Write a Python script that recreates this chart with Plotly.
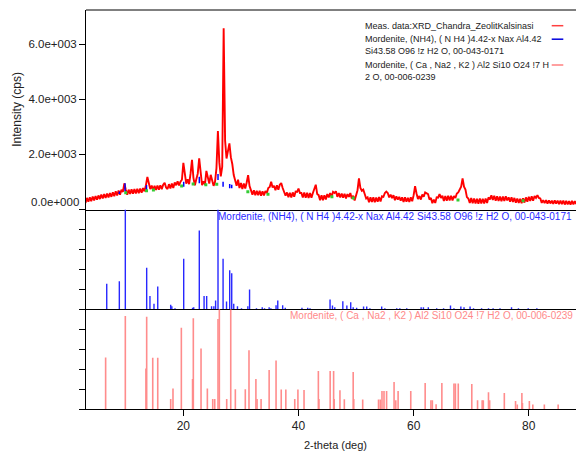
import plotly.graph_objects as go
from plotly.subplots import make_subplots

# ---------------- data ----------------
scan_start = 3.0
scan_step = 0.25
meas_counts = [
    240, 420, 280, 440, 300, 470, 330, 490, 360, 510, 380, 540, 400, 560, 420, 580, 440, 600, 460, 620,
    480, 660, 510, 690, 540, 720, 640, 950, 720, 540, 720, 560, 730, 570, 740, 580, 750, 590, 760, 610,
    780, 660, 880, 1180, 960, 740, 870, 700, 860, 710, 870, 720, 880, 740, 900, 970, 800, 740, 920, 760,
    940, 780, 980, 880, 1020, 870, 1010, 1080, 1690, 1300, 940, 1100, 920, 1300, 1800, 1150, 880, 1100, 1300, 1860,
    1200, 880, 1020, 900, 1400, 1100, 940, 1260, 1060, 860, 1000, 1500, 2850, 1700, 1200, 1550, 6580, 2500, 1850, 2200,
    2400, 1900, 1650, 1250, 1050, 860, 1080, 780, 960, 740, 940, 760, 980, 1250, 850, 720, 540, 700, 520, 680,
    520, 680, 500, 660, 510, 670, 600, 780, 820, 1010, 800, 860, 700, 880, 720, 900, 960, 780, 660, 500,
    620, 450, 610, 440, 620, 460, 650, 640, 760, 600, 600, 440, 620, 430, 610, 420, 600, 430, 600, 720,
    900, 560, 520, 340, 520, 340, 520, 360, 560, 440, 600, 460, 640, 600, 660, 460, 600, 440, 580, 430,
    570, 400, 560, 460, 600, 400, 500, 330, 480, 700, 1130, 780, 680, 720, 560, 400, 440, 260, 440, 270,
    440, 260, 430, 280, 450, 290, 480, 460, 600, 650, 600, 440, 540, 410, 520, 340, 480, 360, 460, 320,
    440, 270, 440, 280, 420, 270, 440, 300, 520, 850, 580, 380, 490, 360, 540, 460, 620, 580, 560, 360,
    420, 230, 360, 240, 440, 430, 560, 420, 500, 310, 490, 320, 500, 330, 500, 330, 490, 420, 580, 620,
    740, 830, 1130, 830, 720, 450, 400, 240, 420, 230, 400, 220, 390, 210, 400, 220, 390, 220, 400, 240,
    440, 360, 520, 350, 500, 320, 480, 310, 470, 300, 470, 310, 480, 330, 440, 280, 440, 270, 420, 250,
    400, 240, 390, 230, 410, 250, 440, 280, 460, 310, 480, 320, 490, 420, 520, 420, 400, 240, 340, 230,
    340, 210, 330, 220, 320, 200, 330, 210, 320, 190, 320, 190, 320, 180, 310, 190, 300, 180, 310, 190, 300, 200,
]
two_theta = [round(scan_start + i * scan_step, 2) for i in range(len(meas_counts))]

# reference pattern 00-043-0171 (NH4 mordenite): positions (deg) and relative intensities (%)
nh4_pos = [6.69, 8.88, 9.92, 13.63, 14.20, 14.90, 15.55, 17.80, 18.00, 18.55,
           20.06, 21.60, 21.80, 22.77, 23.60, 24.05, 24.90, 25.30, 25.60, 26.02,
           26.90, 27.50, 28.05, 28.40, 28.75, 29.40, 30.10, 31.20, 31.50, 32.70,
           33.70, 34.10, 34.90, 35.20, 36.10, 36.40, 37.25, 37.70, 40.60, 41.60,
           42.00, 45.48, 45.90, 46.30, 47.70, 48.40, 49.07, 49.50, 50.10, 51.30,
           51.85, 52.40, 54.45, 55.00, 57.06, 57.60, 58.80, 61.30, 61.70, 62.55,
           64.00, 65.20, 66.40, 67.00, 68.20, 68.75, 69.80, 70.40, 71.80, 73.00,
           73.80, 75.00, 77.00, 78.20, 79.90, 81.40]
nh4_int = [25.5, 28, 100, 41.6, 13.4, 5.4, 22.8, 4.5, 3, 1,
           50.7, 1.5, 2, 79, 13.4, 13.4, 3, 3, 8.7, 100,
           50.7, 7.7, 39, 36, 5.4, 3, 1, 3, 19.8, 1,
           2, 1, 2, 1, 4, 8.7, 4, 1.5, 1.5, 1.5,
           1, 9.7, 3.7, 2, 8, 3.7, 7, 2, 1.5, 2.7,
           2.7, 1, 2.7, 1, 1, 1, 1, 2, 2, 2,
           1, 1, 3.7, 1, 2.7, 2, 2.7, 1, 1, 1,
           1, 1, 2, 1, 1, 1]

# reference pattern 00-006-0239 (Ca, Na2, K2 mordenite)
ca_pos = [6.50, 9.92, 13.50, 13.63, 14.68, 15.55, 17.80, 18.20, 19.65, 21.60,
          21.73, 23.07, 24.17, 25.10, 25.45, 26.02, 26.25, 27.53, 28.23, 29.03,
          30.76, 31.40, 32.60, 32.80, 33.50, 34.90, 36.10, 37.00, 37.80, 39.35,
          39.90, 40.96, 43.45, 43.55, 45.50, 46.10, 46.20, 47.20, 47.96, 49.50,
          49.60, 51.15, 53.90, 54.20, 54.50, 54.85, 55.30, 56.60, 56.90, 57.30,
          59.50, 62.00, 63.00, 63.25, 63.90, 64.90, 67.00, 67.25, 67.75, 70.10,
          71.10, 71.90, 72.10, 73.00, 73.20, 75.75, 77.70, 78.00, 78.80, 78.90,
          80.10, 80.70, 82.70, 85.10]
ca_int = [51.7, 93.3, 40.6, 92.6, 51.3, 51.3, 10, 20.5, 81.5, 30,
          91, 60.7, 20.5, 10, 10, 90.3, 100, 10, 100, 19.8,
          19.8, 59, 30, 10, 10, 39, 48.7, 19.5, 19.5, 10,
          19.5, 19, 38, 10, 38, 38, 10, 18.8, 9.7, 37,
          10, 9.4, 9.4, 9.4, 18, 18, 18, 27, 8.7, 18,
          18, 26, 8.7, 8.7, 4.7, 26, 25.5, 25.5, 25.5, 25,
          8.7, 8.7, 8.7, 16.8, 8.7, 16, 8, 4.4, 16, 6,
          8, 4.4, 4.4, 4.4]

# peak position markers drawn on the measured pattern
mark_pos = [8.88, 9.87, 13.60, 20.06, 22.77, 26.02, 26.90, 28.05, 28.40]
mark_lo = [560, 650, 680, 830, 950, 1070, 830, 770, 770]
mark_hi = [650, 950, 890, 1010, 1190, 1290, 1010, 925, 900]
green_pos = [9.99, 13.6, 14.8, 19.7, 21.7, 23.9, 25.8, 31.2, 34.7, 45.8, 49.5, 67.7, 79.0]
green_cnt = [610, 680, 710, 850, 925, 900, 915, 645, 550, 465, 415, 345, 320]

y_tick_vals = [0, 2000, 4000, 6000]
y_tick_text = ["", "2.0e+003", "4.0e+003", "6.0e+003"]
x_tick_vals = [20, 40, 60, 80]

legend_lines = ["Meas. data:XRD_Chandra_ZeolitKalsinasi",
                "Mordenite, (NH4), ( N H4 )4.42-x Nax Al4.42",
                "Si43.58 O96 !z H2 O, 00-043-0171",
                "Mordenite, ( Ca , Na2 , K2 ) Al2 Si10 O24 !7 H",
                "2 O, 00-006-0239"]
nh4_label = "Mordenite, (NH4), ( N H4 )4.42-x Nax Al4.42 Si43.58 O96 !z H2 O, 00-043-0171"
ca_label = "Mordenite, ( Ca , Na2 , K2 ) Al2 Si10 O24 !7 H2 O, 00-006-0239"

# ---------------- styling ----------------
FONT = "Arial, Liberation Sans, sans-serif"
RED = "#ff0000"
BLUE = "rgb(40,40,255)"
PINK = "rgb(255,140,140)"
W, H = 576, 452
ML, MR, MT, MB = 86, 0, 10, 43
PW, PH = W - ML - MR, H - MT - MB


def px2paper_x(px):
    return (px - ML) / PW


def px2paper_y(py):
    return (H - MB - py) / PH


def sticks(pos, inten):
    xs, ys = [], []
    for p, v in zip(pos, inten):
        xs += [p, p, None]
        ys += [0, v, None]
    return xs, ys


fig = make_subplots(rows=3, cols=1, shared_xaxes=True, vertical_spacing=0,
                    row_heights=[0.5, 0.25, 0.25])

# top panel: measured data
fig.add_trace(go.Scatter(x=two_theta, y=meas_counts, mode="lines",
                         line=dict(color=RED, width=1.9), showlegend=False,
                         hoverinfo="skip"), row=1, col=1)
mx, my = [], []
for p, lo, hi in zip(mark_pos, mark_lo, mark_hi):
    mx += [p, p, None]
    my += [lo, hi, None]
fig.add_trace(go.Scatter(x=mx, y=my, mode="lines", line=dict(color="#0000ff", width=1.5),
                         showlegend=False, hoverinfo="skip"), row=1, col=1)
fig.add_trace(go.Scatter(x=green_pos, y=green_cnt, mode="markers",
                         marker=dict(color="#33cc33", size=3, symbol="square"),
                         showlegend=False, hoverinfo="skip"), row=1, col=1)

# middle panel
sx, sy = sticks(nh4_pos, nh4_int)
fig.add_trace(go.Scatter(x=sx, y=sy, mode="lines", line=dict(color=BLUE, width=1.4),
                         showlegend=False, hoverinfo="skip"), row=2, col=1)
# bottom panel
sx, sy = sticks(ca_pos, ca_int)
fig.add_trace(go.Scatter(x=sx, y=sy, mode="lines", line=dict(color=PINK, width=1.6),
                         showlegend=False, hoverinfo="skip"), row=3, col=1)

xrange = [3.09, 88.2]
common_x = dict(range=xrange, showgrid=False, zeroline=False, showline=True,
                linecolor="black", linewidth=1)
fig.update_xaxes(**common_x, ticks="", showticklabels=False, row=1, col=1)
fig.update_xaxes(**common_x, ticks="", showticklabels=False, row=2, col=1)
fig.update_xaxes(**common_x, ticks="outside", ticklen=6, tickcolor="black",
                 tickvals=x_tick_vals, showticklabels=True,
                 tickfont=dict(family=FONT, size=12, color="#222"), row=3, col=1)

fig.update_yaxes(range=[0, 7240], tickvals=y_tick_vals, ticktext=y_tick_text,
                 ticks="outside", ticklen=6, tickcolor="black", showgrid=False,
                 zeroline=False, showline=True, linecolor="black", linewidth=1,
                 tickfont=dict(family=FONT, size=11.5, color="#222"), row=1, col=1)
for r in (2, 3):
    fig.update_yaxes(range=[0, 100], tickvals=[0, 20, 40, 60, 80, 100],
                     showticklabels=False, ticks="outside", ticklen=6,
                     tickcolor="black", showgrid=False, zeroline=False,
                     showline=True, linecolor="black", linewidth=1, row=r, col=1)

shapes = [dict(type="line", xref="paper", yref="paper", x0=0, x1=1, y0=1, y1=1,
               line=dict(color="black", width=1))]
# legend samples
for py, col in ((25.7, "#ff4040"), (39.2, "#0000dd"), (65.0, "#ff8080")):
    shapes.append(dict(type="line", xref="paper", yref="paper",
                       x0=px2paper_x(551.7), x1=px2paper_x(563.3),
                       y0=px2paper_y(py), y1=px2paper_y(py),
                       line=dict(color=col, width=1.5)))

ann = []
ann.append(dict(text="0.0e+000", xref="paper", yref="paper", x=px2paper_x(80.5),
                y=px2paper_y(202), xanchor="right", yanchor="middle", showarrow=False,
                font=dict(family=FONT, size=11.5, color="#222")))
ann.append(dict(text="Intensity (cps)", xref="paper", yref="paper", x=px2paper_x(17),
                y=0.75, textangle=-90, xanchor="center", yanchor="middle",
                showarrow=False, font=dict(family=FONT, size=12, color="#222")))
ann.append(dict(text="2-theta (deg)", xref="paper", yref="paper", x=px2paper_x(335),
                y=px2paper_y(445), xanchor="center", yanchor="middle",
                showarrow=False, font=dict(family=FONT, size=11, color="#222")))
ann.append(dict(text=nh4_label, xref="x", yref="paper", x=25.67, y=px2paper_y(216),
                xanchor="left", yanchor="middle", showarrow=False,
                font=dict(family=FONT, size=10, color="#2a2aff")))
ann.append(dict(text=ca_label, xref="x", yref="paper", x=38.23, y=px2paper_y(315.7),
                xanchor="left", yanchor="middle", showarrow=False,
                font=dict(family=FONT, size=10, color="#ff8a8a")))
for txt, py in zip(legend_lines, (26, 39.3, 50.8, 65, 76.7)):
    ann.append(dict(text=txt, xref="paper", yref="paper", x=px2paper_x(362.7),
                    y=px2paper_y(py), xanchor="left", yanchor="middle",
                    showarrow=False, font=dict(family=FONT, size=9, color="#222")))

fig.update_layout(width=W, height=H, margin=dict(l=ML, r=MR, t=MT, b=MB),
                  plot_bgcolor="white", paper_bgcolor="white",
                  shapes=shapes, annotations=ann, showlegend=False,
                  font=dict(family=FONT))

fig.write_html("out.html", config={"displayModeBar": False},
               post_script="document.body.style.margin='0px';"
                           "document.body.style.overflow='hidden';")
